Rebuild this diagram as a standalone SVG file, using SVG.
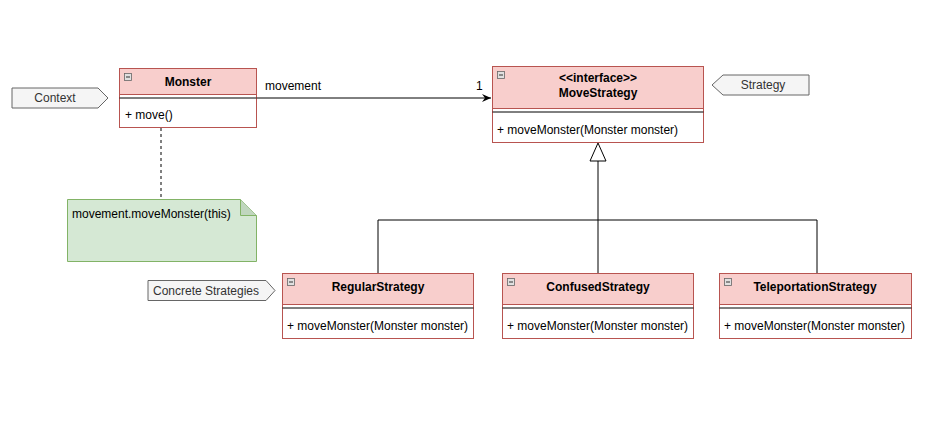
<svg xmlns="http://www.w3.org/2000/svg" width="932" height="446" viewBox="0 0 932 446">
<defs>
<style>
text{font-family:"Liberation Sans",Arial,sans-serif;font-size:12px;fill:#000}
.hdr{fill:#f8cecc;stroke:#b85450;stroke-width:1}
.body{fill:#fff;stroke:#b85450;stroke-width:1}
.sep{stroke:#000;stroke-width:1}
.bold{font-weight:bold;text-anchor:middle}
.mini{fill:#e0e0e0;stroke:#666;stroke-width:0.8}
.lbl{fill:#f5f5f5;stroke:#666;stroke-width:1}
.lt{fill:#333;text-anchor:middle}
.edge{fill:none;stroke:#000;stroke-width:1}
</style>
<marker id="arr" markerWidth="10" markerHeight="10" refX="9" refY="5" orient="auto" markerUnits="userSpaceOnUse">
<path d="M0,1 L9,5 L0,9 L3,5 Z" fill="#000"/>
</marker>
</defs>
<rect width="932" height="446" fill="#fff"/>

<g id="connectors">
<path class="edge" d="M256.5,98 L491,98" marker-end="url(#arr)"/>
<text x="265" y="90">movement</text>
<text x="476" y="90">1</text>
<path class="edge" d="M161,128 L161,199" stroke-dasharray="3,3"/>
<path class="edge" d="M378,273 L378,220 L817,220 L817,273 M598,273 L598,161"/>
<path d="M598,143 L606,161 L590,161 Z" fill="#fff" stroke="#000"/>
</g>

<g id="context-label">
<path class="lbl" d="M12,88 L98,88 L108,98 L98,108 L12,108 Z"/>
<text class="lt" x="55" y="102">Context</text>
</g>

<g id="strategy-label">
<path class="lbl" d="M723,75 L809,75 L809,95 L723,95 L712,85 Z"/>
<text class="lt" x="763" y="89">Strategy</text>
</g>

<g id="concrete-label">
<path class="lbl" d="M148,280.5 L266,280.5 L275,290.5 L266,300.5 L148,300.5 Z"/>
<text class="lt" x="206" y="295">Concrete Strategies</text>
</g>

<g id="monster">
<rect class="body" x="119.5" y="68.5" width="137" height="59"/>
<rect class="hdr" x="119.5" y="68.5" width="137" height="26"/>
<line class="sep" x1="119.5" y1="98" x2="256.5" y2="98"/>
<rect class="mini" x="124.5" y="73.5" width="7" height="7"/><line x1="126" y1="77" x2="130" y2="77" stroke="#333" stroke-width="1"/>
<text class="bold" x="188" y="86">Monster</text>
<text x="125" y="119">+ move()</text>
</g>

<g id="note">
<path d="M67.5,199.5 L240.5,199.5 L256.5,215.5 L256.5,261.5 L67.5,261.5 Z" fill="#d5e8d4" stroke="#82b366"/>
<path d="M240.5,199.5 L240.5,215.5 L256.5,215.5" fill="#c0d6be" stroke="#82b366"/>
<text x="72" y="218">movement.moveMonster(this)</text>
</g>

<g id="movestrategy">
<rect class="body" x="492.5" y="66.5" width="211" height="76"/>
<rect class="hdr" x="492.5" y="66.5" width="211" height="42"/>
<line class="sep" x1="492.5" y1="112" x2="703.5" y2="112"/>
<rect class="mini" x="497.5" y="71.5" width="7" height="7"/><line x1="499" y1="75" x2="503" y2="75" stroke="#333" stroke-width="1"/>
<text class="bold" x="598" y="82">&lt;&lt;interface&gt;&gt;</text>
<text class="bold" x="598" y="97">MoveStrategy</text>
<text x="497" y="134">+ moveMonster(Monster monster)</text>
</g>

<g id="regular">
<rect class="body" x="282.5" y="273.5" width="191" height="65"/>
<rect class="hdr" x="282.5" y="273.5" width="191" height="31"/>
<line class="sep" x1="282.5" y1="308" x2="473.5" y2="308"/>
<rect class="mini" x="287.5" y="278.5" width="7" height="7"/><line x1="289" y1="282" x2="293" y2="282" stroke="#333" stroke-width="1"/>
<text class="bold" x="378" y="291">RegularStrategy</text>
<text x="287" y="330">+ moveMonster(Monster monster)</text>
</g>

<g id="confused">
<rect class="body" x="502.5" y="273.5" width="191" height="65"/>
<rect class="hdr" x="502.5" y="273.5" width="191" height="31"/>
<line class="sep" x1="502.5" y1="308" x2="693.5" y2="308"/>
<rect class="mini" x="507.5" y="278.5" width="7" height="7"/><line x1="509" y1="282" x2="513" y2="282" stroke="#333" stroke-width="1"/>
<text class="bold" x="598" y="291">ConfusedStrategy</text>
<text x="507" y="330">+ moveMonster(Monster monster)</text>
</g>

<g id="teleportation">
<rect class="body" x="719.5" y="273.5" width="192" height="65"/>
<rect class="hdr" x="719.5" y="273.5" width="192" height="31"/>
<line class="sep" x1="719.5" y1="308" x2="911.5" y2="308"/>
<rect class="mini" x="724.5" y="278.5" width="7" height="7"/><line x1="726" y1="282" x2="730" y2="282" stroke="#333" stroke-width="1"/>
<text class="bold" x="815" y="291">TeleportationStrategy</text>
<text x="724" y="330">+ moveMonster(Monster monster)</text>
</g>
</svg>
